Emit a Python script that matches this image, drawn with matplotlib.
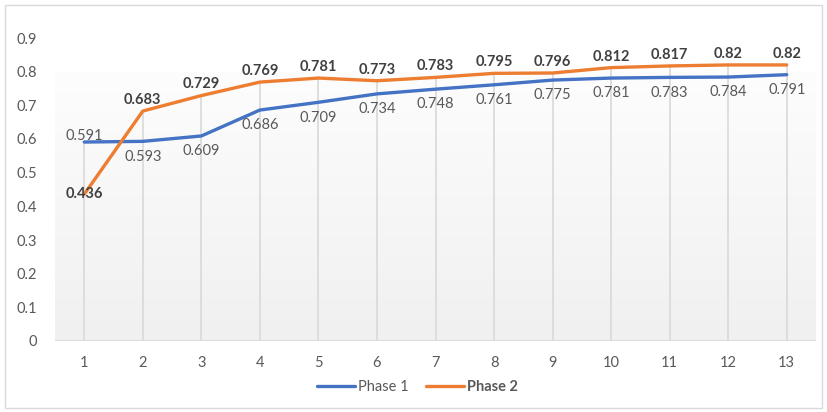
import numpy as np
import matplotlib
matplotlib.use('Agg')
from matplotlib import pyplot as plt
from matplotlib.patches import Rectangle

plt.rcParams['font.family'] = ['Lato', 'DejaVu Sans']

steps = list(range(1, 14))
phase1 = [0.591, 0.593, 0.609, 0.686, 0.709, 0.734, 0.748, 0.761, 0.775, 0.781, 0.783, 0.784, 0.791]
phase2 = [0.436, 0.683, 0.729, 0.769, 0.781, 0.773, 0.783, 0.795, 0.796, 0.812, 0.817, 0.82, 0.82]
yticks = [0, 0.1, 0.2, 0.3, 0.4, 0.5, 0.6, 0.7, 0.8, 0.9]

blue = '#4472C4'
orange = '#ED7D31'
txt = '#595959'

fig = plt.figure(figsize=(8.27, 4.12), dpi=100)
ax = fig.add_axes([55/827, 1-341/412, (816-55)/827, (341-38)/412])

# gradient fill, white at top to light grey at bottom (only up to 0.8 like the original)
grad = np.linspace(0, 1, 256).reshape(-1, 1)
cmap = matplotlib.colors.LinearSegmentedColormap.from_list('g', ['#fdfdfd', '#f0f0f0'])
ax.imshow(grad, extent=[0.5, 13.5, 0, 0.8], aspect='auto', cmap=cmap, zorder=0, origin='upper')

# drop lines from the axis up to the higher series
tops = [max(a, b) for a, b in zip(phase1, phase2)]
ax.vlines(steps, 0, tops, color='#d9d9d9', lw=1.2, zorder=1)
ax.axhline(0, color='#d9d9d9', lw=1.2, zorder=1)

l1, = ax.plot(steps, phase1, color=blue, lw=2.4, zorder=3, solid_capstyle='round', label='Phase 1')
l2, = ax.plot(steps, phase2, color=orange, lw=2.4, zorder=3, solid_capstyle='round', label='Phase 2')

for i, (x, v) in enumerate(zip(steps, phase1)):
    dy = 4 if i == 0 else -11
    ax.annotate(f'{v:g}', (x, v), xytext=(0, dy), textcoords='offset points',
                ha='center', va='center', fontsize=10.5, color=txt, zorder=4)
for i, (x, v) in enumerate(zip(steps, phase2)):
    dy = 0 if i == 0 else 8
    ax.annotate(f'{v:g}', (x, v), xytext=(0, dy), textcoords='offset points',
                ha='center', va='center', fontsize=10.5, color='#404040',
                fontweight='bold', zorder=4)

ax.set_xlim(0.5, 13.5)
ax.set_ylim(0, 0.9)
ax.set_xticks(steps)
ax.set_yticks(yticks)
ax.set_yticklabels([f'{t:g}' for t in yticks])
ax.tick_params(length=0, labelsize=10.5, labelcolor=txt)
ax.tick_params(axis='y', pad=13)
ax.tick_params(axis='x', pad=11)
for sp in ax.spines.values():
    sp.set_visible(False)

leg = fig.legend(handles=[l1, l2], loc='center', bbox_to_anchor=(0.505, 1-387/412),
                 ncol=2, frameon=False, fontsize=10.5, handlelength=2.6,
                 handletextpad=0.2, columnspacing=1.2)
for t in leg.get_texts():
    t.set_color(txt)
leg.get_texts()[1].set_fontweight('bold')

fig.patches.append(Rectangle((5/827, 4/412), 817/827, 403/412, transform=fig.transFigure,
                             fill=False, edgecolor='#d9d9d9', lw=1))

fig.savefig('out.png', dpi=100)
